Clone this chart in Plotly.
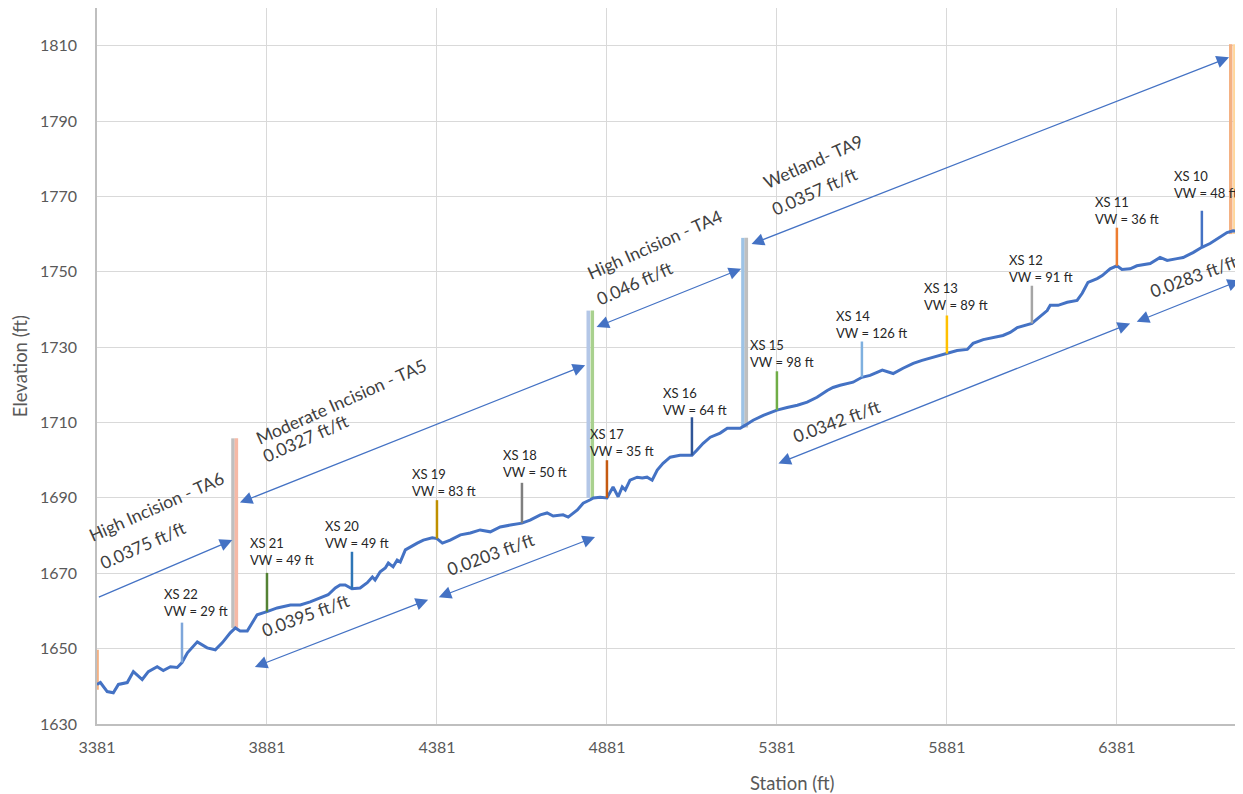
import plotly.graph_objects as go

# ---------------- data ----------------
station = [3381, 3391, 3411, 3429, 3444, 3470, 3488, 3514, 3532, 3558, 3576, 3597, 3617, 3631,
           3647, 3676, 3705, 3729, 3750, 3773, 3788, 3802, 3823, 3852, 3881, 3911, 3950, 3979,
           4008, 4038, 4061, 4082, 4096, 4111, 4131, 4155, 4176, 4191, 4199, 4214, 4229, 4238,
           4252, 4264, 4273, 4288, 4302, 4323, 4341, 4367, 4381, 4397, 4420, 4450, 4479, 4508,
           4538, 4567, 4597, 4631, 4655, 4685, 4705, 4723, 4752, 4767, 4794, 4811, 4832, 4841,
           4861, 4881, 4899, 4914, 4926, 4935, 4949, 4970, 4985, 4999, 5014, 5029, 5046, 5067,
           5096, 5131, 5146, 5164, 5185, 5214, 5235, 5273, 5288, 5311, 5341, 5381, 5411, 5441,
           5470, 5499, 5529, 5546, 5567, 5588, 5605, 5631, 5655, 5691, 5723, 5752, 5782, 5808,
           5841, 5881, 5911, 5941, 5958, 5988, 6017, 6046, 6067, 6088, 6131, 6149, 6176, 6185,
           6208, 6235, 6264, 6279, 6296, 6323, 6338, 6361, 6381, 6396, 6420, 6440, 6479, 6508,
           6529, 6558, 6576, 6605, 6631, 6655, 6676, 6705, 6723, 6752]
elevation = [1640.5, 1641.0, 1638.6, 1638.3, 1640.5, 1641.0, 1643.9, 1641.8, 1643.9, 1645.2, 1644.2,
             1645.2, 1645.0, 1646.3, 1648.9, 1651.8, 1650.2, 1649.7, 1651.6, 1654.2, 1655.5, 1654.7,
             1654.7, 1659.0, 1659.8, 1660.8, 1661.6, 1661.6, 1662.4, 1663.5, 1664.3, 1666.1, 1666.9,
             1666.9, 1665.9, 1666.1, 1667.5, 1669.0, 1668.2, 1670.4, 1671.4, 1672.7, 1671.7, 1673.5,
             1673.0, 1676.2, 1677.0, 1678.0, 1678.8, 1679.4, 1679.2, 1678.0, 1678.8, 1680.2, 1680.7,
             1681.5, 1681.0, 1682.3, 1682.8, 1683.3, 1684.1, 1685.5, 1686.0, 1685.2, 1685.5, 1684.9,
             1686.8, 1688.6, 1689.5, 1690.0, 1690.2, 1690.0, 1692.9, 1690.3, 1692.9, 1692.1, 1694.7,
             1695.5, 1695.3, 1695.5, 1694.7, 1697.4, 1699.2, 1700.8, 1701.3, 1701.3, 1702.7, 1704.5,
             1706.1, 1707.2, 1708.5, 1708.5, 1709.3, 1710.6, 1711.9, 1713.3, 1714.0, 1714.6, 1715.4,
             1716.7, 1718.5, 1719.3, 1719.9, 1720.4, 1720.7, 1722.0, 1722.5, 1723.9, 1723.0, 1724.4,
             1725.7, 1726.5, 1727.3, 1728.3, 1729.1, 1729.4, 1731.0, 1732.0, 1732.6, 1733.1, 1733.9,
             1735.2, 1736.3, 1737.6, 1739.7, 1741.1, 1741.1, 1741.9, 1742.4, 1744.3, 1747.2, 1748.2,
             1749.0, 1750.8, 1751.6, 1750.6, 1750.8, 1751.6, 1752.2, 1753.8, 1753.0, 1753.5, 1753.8,
             1755.1, 1756.5, 1757.5, 1758.8, 1760.4, 1760.9, 1760.6]

# cross sections
xs_names = ["XS 22", "XS 21", "XS 20", "XS 19", "XS 18", "XS 17", "XS 16",
            "XS 15", "XS 14", "XS 13", "XS 12", "XS 11", "XS 10"]
xs_vw = [29, 49, 49, 83, 50, 35, 64, 98, 126, 89, 91, 36, 48]
xs_station = [3631, 3881, 4131, 4381, 4631, 4881, 5131, 5381, 5631, 5881, 6131, 6381, 6631]
xs_top = [1656.9, 1670.1, 1675.7, 1689.4, 1694.0, 1700.0, 1711.4, 1723.6, 1731.5, 1738.4,
          1746.3, 1761.7, 1766.2]
xs_bottom = [1646.3, 1659.8, 1665.9, 1679.2, 1683.3, 1690.0, 1701.3, 1713.3, 1722.0, 1728.3,
             1736.3, 1751.6, 1756.5]
xs_label_x = [3573, 3826, 4047, 4302, 4570, 4826, 5041, 5297, 5549, 5808, 6058, 6311, 6543]
xs_label_y = [1662.2, 1675.7, 1680.3, 1694.1, 1699.0, 1704.6, 1715.5, 1728.3, 1736.0,
              1743.4, 1751.0, 1766.2, 1773.1]
xs_colors = ["#7EA6DA", "#548235", "#2E75B6", "#BF9000", "#7F7F7F", "#C55A11", "#2F5597",
             "#70AD47", "#7FB0DF", "#FFC000", "#A5A5A5", "#ED7D31", "#4472C4"]

# reach boundary markers (pairs of vertical bars)
ta_station_a = [3781, 4826, 5281, 6716]
ta_station_b = [3791, 4838, 5291, 6728]
ta_bottom = [1655.5, 1690.0, 1708.7, 1760.0]
ta_top = [1705.8, 1739.7, 1759.0, 1810.4]
ta_colors_a = ["#BFBFBF", "#B4C7E7", "#9DC3E6", "#F4B183"]
ta_colors_b = ["#F6B9A6", "#A9D18E", "#BFBFBF", "#FFD699"]
edge_station = [3382, 3382]
edge_elev = [1639.1, 1649.7]

# reach labels
reach_names = ["High Incision - TA6", "Moderate Incision - TA5", "High Incision - TA4", "Wetland- TA9"]
reach_name_x = [3557, 4100, 5021, 5488]
reach_name_y = [1687.6, 1715.6, 1757.3, 1779.2]
reach_slopes = ["0.0375 ft/ft", "0.0327 ft/ft", "0.046 ft/ft", "0.0357 ft/ft"]
reach_slope_x = [3514, 3994, 4961, 5492]
reach_slope_y = [1677.5, 1705.7, 1746.9, 1771.3]

# lower slope labels
seg_slopes = ["0.0395 ft/ft", "0.0203 ft/ft", "0.0342 ft/ft", "0.0283 ft/ft"]
seg_slope_x = [3994, 4538, 5555, 6605]
seg_slope_y = [1658.7, 1675.0, 1710.3, 1748.8]

# arrows: tail (x0,y0) -> head (x1,y1)
arrow_x0 = [3382, 3797, 4846, 5302, 6920, 3841, 4382, 5381, 6435]
arrow_y0 = [1663.5, 1688.6, 1735.2, 1757.2, 1792.6, 1645.0, 1663.5, 1699.0, 1736.6]
arrow_x1 = [3779, 4817, 5276, 6711, 6738, 4355, 4846, 6420, 6743]
arrow_y1 = [1678.8, 1725.2, 1750.8, 1806.9, 1786.1, 1663.0, 1679.6, 1736.3, 1747.7]
arrow_double = [False, True, True, True, False, True, True, True, True]

x_ticks = [3381, 3881, 4381, 4881, 5381, 5881, 6381]
y_ticks = [1630, 1650, 1670, 1690, 1710, 1730, 1750, 1770, 1790, 1810]

# ---------------- figure ----------------
FONT = "Lato, 'Open Sans', sans-serif"
TXT = "#404040"
ARROW = "#4472C4"

fig = go.Figure()

fig.add_trace(go.Scatter(x=edge_station, y=edge_elev, mode="lines",
                         line=dict(color="#F4B183", width=3), hoverinfo="skip"))
for i in range(len(ta_station_a)):
    fig.add_trace(go.Scatter(x=[ta_station_a[i], ta_station_a[i]], y=[ta_bottom[i], ta_top[i]],
                             mode="lines", line=dict(color=ta_colors_a[i], width=3.5), hoverinfo="skip"))
    fig.add_trace(go.Scatter(x=[ta_station_b[i], ta_station_b[i]], y=[ta_bottom[i], ta_top[i]],
                             mode="lines", line=dict(color=ta_colors_b[i], width=3.5), hoverinfo="skip"))

fig.add_trace(go.Scatter(x=station, y=elevation, mode="lines",
                         line=dict(color="#4472C4", width=3), name="Profile"))

for i in range(len(xs_station)):
    fig.add_trace(go.Scatter(x=[xs_station[i], xs_station[i]], y=[xs_bottom[i], xs_top[i]],
                             mode="lines", line=dict(color=xs_colors[i], width=2.5), hoverinfo="skip"))

annotations = []
for i in range(len(xs_station)):
    annotations.append(dict(x=xs_label_x[i], y=xs_label_y[i], xref="x", yref="y",
                            text=f"{xs_names[i]}<br>VW = {xs_vw[i]} ft", showarrow=False,
                            xanchor="left", yanchor="middle", align="left",
                            font=dict(family=FONT, size=13, color="#262626")))

for i in range(len(reach_names)):
    annotations.append(dict(x=reach_name_x[i], y=reach_name_y[i], xref="x", yref="y",
                            text=reach_names[i], showarrow=False, textangle=-24,
                            xanchor="center", yanchor="middle",
                            font=dict(family=FONT, size=17.5, color=TXT)))
    annotations.append(dict(x=reach_slope_x[i], y=reach_slope_y[i], xref="x", yref="y",
                            text=reach_slopes[i], showarrow=False, textangle=-24,
                            xanchor="center", yanchor="middle",
                            font=dict(family=FONT, size=17.5, color=TXT)))

for i in range(len(seg_slopes)):
    annotations.append(dict(x=seg_slope_x[i], y=seg_slope_y[i], xref="x", yref="y",
                            text=seg_slopes[i], showarrow=False, textangle=-20,
                            xanchor="center", yanchor="middle",
                            font=dict(family=FONT, size=17.5, color=TXT)))

for i in range(len(arrow_x0)):
    a = dict(x=arrow_x1[i], y=arrow_y1[i], ax=arrow_x0[i], ay=arrow_y0[i],
             xref="x", yref="y", axref="x", ayref="y", text="", showarrow=True,
             arrowhead=2, arrowsize=2, arrowwidth=1.25, arrowcolor=ARROW,
             standoff=0, startstandoff=0)
    if arrow_double[i]:
        a.update(arrowside="end+start", startarrowhead=2, startarrowsize=2)
    annotations.append(a)

# axis titles
annotations.append(dict(x=-0.067, y=0.5, xref="paper", yref="paper", text="Elevation (ft)",
                        showarrow=False, textangle=-90, xanchor="center", yanchor="middle",
                        font=dict(family=FONT, size=18.5, color="#595959")))
annotations.append(dict(x=0.6065, y=-0.0824, xref="paper", yref="paper", text="Station (ft)",
                        showarrow=False, xanchor="center", yanchor="middle",
                        font=dict(family=FONT, size=18.5, color="#595959")))

# page body adds an 8px offset, so the figure is 8px smaller than the window
fig.update_layout(
    width=1235, height=786,
    margin=dict(l=89, r=0, t=0, b=70, autoexpand=False),
    paper_bgcolor="white", plot_bgcolor="white",
    showlegend=False,
    annotations=annotations,
    font=dict(family=FONT, color="#595959"),
)
fig.update_xaxes(range=[3381, 6752], tickmode="array", tickvals=x_ticks,
                 ticktext=[str(v) for v in x_ticks],
                 showgrid=True, gridcolor="#D9D9D9", gridwidth=1.3,
                 showline=True, linecolor="#BFBFBF", linewidth=1.5, zeroline=False,
                 ticks="", ticklabelstandoff=8,
                 tickfont=dict(family=FONT, size=16, color="#595959"))
fig.update_yaxes(range=[1630, 1820], tickmode="array", tickvals=y_ticks,
                 ticktext=[str(v) for v in y_ticks],
                 showgrid=True, gridcolor="#D9D9D9", gridwidth=1.3,
                 showline=True, linecolor="#BFBFBF", linewidth=1.5, zeroline=False,
                 ticks="outside", ticklen=15, tickcolor="rgba(0,0,0,0)",
                 tickfont=dict(family=FONT, size=16, color="#595959"))

fig.write_html("out.html", config={"displayModeBar": False})
